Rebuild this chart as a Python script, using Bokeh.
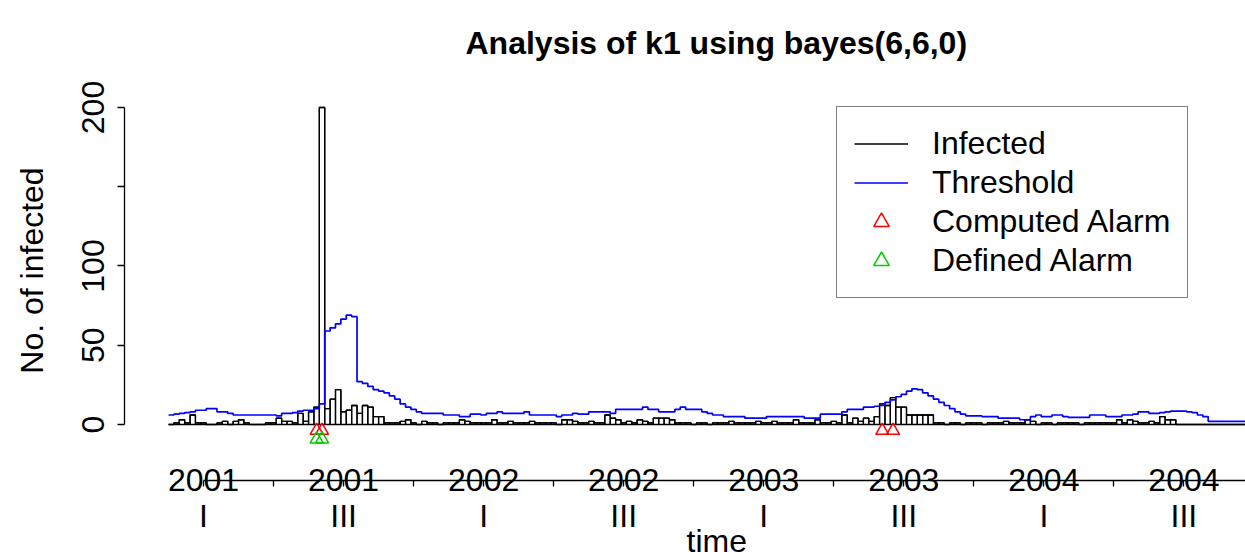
from bokeh.plotting import figure
from bokeh.models import (Range1d, LinearAxis, FixedTicker, Legend, LegendItem,
                          ColumnDataSource, Title)
from bokeh.embed import file_html
from bokeh.resources import INLINE

# ---------------- data (weekly counts, first bar = 2000 week 47) ----------------
observed = [0, 1, 3, 1, 6, 1, 1, 0, 0, 1, 2, 0, 2, 3, 1, 0, 0, 0, 1, 1,
            4, 2, 2, 1, 7, 2, 8, 11, 200, 10, 16, 22, 8, 9, 12, 7, 12, 11, 5, 5,
            1, 1, 1, 2, 3, 1, 0, 2, 1, 1, 0, 1, 1, 1, 3, 2, 1, 1, 1, 1,
            3, 1, 1, 2, 1, 1, 1, 2, 1, 1, 1, 1, 0, 3, 3, 2, 1, 1, 2, 1,
            1, 6, 4, 3, 1, 2, 1, 3, 2, 1, 4, 4, 4, 3, 1, 1, 1, 0, 1, 1,
            0, 1, 1, 1, 2, 1, 1, 1, 1, 2, 1, 1, 2, 1, 1, 1, 3, 1, 1, 1,
            3, 1, 1, 2, 1, 6, 1, 4, 2, 4, 2, 5, 13, 12, 17, 11, 11, 6, 6, 6,
            6, 6, 1, 1, 0, 1, 1, 0, 1, 1, 1, 0, 1, 1, 1, 2, 1, 1, 1, 3,
            2, 0, 1, 1, 0, 1, 1, 1, 1, 0, 1, 1, 1, 1, 1, 1, 3, 1, 3, 2,
            1, 1, 2, 1, 5, 3, 3, 0, 0, 0, 0, 0, 0, 0, 0, 0, 0, 0, 0, 0]

threshold = [6, 6.5, 7, 7.5, 8, 9, 9, 10, 10, 8, 8, 7, 6, 6, 6, 6, 6, 6, 6, 6,
             5.5, 7, 7, 7.5, 8.5, 9, 9, 10, 13, 59, 61, 63.5, 66.5, 69, 68, 27, 26, 24, 22, 21,
             20, 18, 16, 13, 11, 9.5, 8, 7, 7, 7, 7, 6, 6, 6, 5, 5, 6.5, 6.5, 6, 7,
             7, 8, 7, 7, 7, 7, 8, 6, 6, 6, 6, 6, 5, 6, 6, 7, 6.5, 6.5, 8, 8,
             8, 8, 7, 9.5, 9.5, 9.5, 9.5, 9.5, 11, 9.5, 9.5, 8, 8, 8, 9.5, 11, 9.5, 9.5, 9.5, 8,
             7, 6, 6, 5, 5, 5, 5, 4, 4, 4, 4, 5, 5, 5, 5, 5, 5, 5, 4, 4,
             4, 6.5, 6.5, 6.5, 6.5, 8, 9.5, 9.5, 9.5, 11, 11, 11.5, 12, 14, 15.5, 17.5, 19, 21, 22.5, 22,
             20, 18, 16, 14, 12, 10, 8, 6.5, 5.5, 5.5, 5.5, 5, 5, 5, 4, 4, 4, 4, 3, 3,
             5, 6, 5, 5, 6, 6, 5, 4.5, 4.5, 4.5, 4.5, 6, 6, 6, 5, 5, 5, 6, 6, 6.5,
             8, 8, 7, 7, 7.5, 8, 8.5, 8.5, 8.5, 8, 7.5, 6, 5, 2, 2, 2, 2, 2, 2, 2]

computed_alarm_weeks = [27, 28, 132, 134]
defined_alarm_weeks = [27, 28]

first_q1_week = 6          # index of 2001 week 1
weeks_per_quarter = 13
years = ["2001", "2002", "2003", "2004"]
quarter_names = ["I", "", "III", ""]

# ---------------- derived ----------------
n = len(observed)
weeks = list(range(n))
edges = list(range(n + 1))

quarter_ticks = [first_q1_week + 0.5 + weeks_per_quarter * k for k in range(16)]
year_labels = {}
quarter_labels = {}
for k, t in enumerate(quarter_ticks):
    year_labels[t] = years[k // 4] if k % 2 == 0 else ""
    quarter_labels[t] = quarter_names[k % 4]

FONT = "Liberation Sans"

p = figure(width=1245, height=552, output_backend="svg", toolbar_location=None,
           x_range=Range1d(-8.168, 199.93), y_range=Range1d(-35.33, 229.65),
           x_axis_location=None, y_axis_location=None,
           min_border_left=124, min_border_right=0, min_border_top=60,
           min_border_bottom=72)
p.outline_line_color = None
p.xgrid.visible = False
p.ygrid.visible = False
p.background_fill_color = "white"
p.border_fill_color = "white"

p.title.text = "Analysis of k1 using bayes(6,6,0)"
p.title.text_font = FONT
p.title.text_font_size = "32px"
p.title.text_font_style = "bold"
p.title.text_color = "black"
p.title.align = "left"
p.title.offset = 341
p.title.standoff = 0

# bars
bar_src = ColumnDataSource(dict(left=weeks, right=[w + 1 for w in weeks],
                                top=observed, bottom=[0] * n))
p.quad(left="left", right="right", top="top", bottom="bottom", source=bar_src,
       fill_color=None, line_color="black", line_width=1.3)
obs_step = p.step(x=edges, y=observed + [observed[-1]], mode="after",
                  line_color="black", line_width=1.3)

thr_step = p.step(x=edges, y=threshold + [threshold[-1]], mode="after",
                  line_color="#0000ff", line_width=1.7)

comp = p.scatter(x=[w + 0.5 for w in computed_alarm_weeks], y=[-3.8] * len(computed_alarm_weeks),
                 marker="triangle", size=13, fill_color=None, line_color="#ff0000", line_width=1.5)
defi = p.scatter(x=[w + 0.5 for w in defined_alarm_weeks], y=[-9.3] * len(defined_alarm_weeks),
                 marker="triangle", size=13, fill_color=None, line_color="#00cd00", line_width=1.5)

# y axis
yax = LinearAxis(ticker=FixedTicker(ticks=[0, 50, 100, 150, 200]), bounds=(0, 200),
                 major_label_overrides={150: ""}, major_label_orientation="vertical",
                 axis_label="No. of infected")
yax.major_tick_out = 7
yax.major_tick_in = 0
yax.major_label_standoff = 13
yax.axis_label_standoff = 30
yax.major_label_text_font = FONT
yax.major_label_text_font_size = "32px"
yax.major_label_text_color = "black"
yax.axis_label_text_font = FONT
yax.axis_label_text_font_size = "32px"
yax.axis_label_text_font_style = "normal"
yax.axis_label_text_color = "black"
yax.axis_line_width = 1.3
yax.major_tick_line_width = 1.3
p.add_layout(yax, "left")

# x axis: line, ticks, years
xa = LinearAxis(ticker=FixedTicker(ticks=quarter_ticks), bounds=(quarter_ticks[0], 230),
                major_label_overrides=year_labels)
xa.major_tick_out = 6
xa.major_tick_in = 0
xa.major_label_standoff = -18
xa.major_label_text_font = FONT
xa.major_label_text_font_size = "32px"
xa.major_label_text_color = "black"
xa.axis_line_width = 1.3
xa.major_tick_line_width = 1.3
p.add_layout(xa, "below")

# second row: quarters
xb = LinearAxis(ticker=FixedTicker(ticks=quarter_ticks), major_label_overrides=quarter_labels)
xb.axis_line_color = None
xb.major_tick_line_color = None
xb.major_tick_out = 0
xb.major_tick_in = 0
xb.major_label_standoff = 4
xb.major_label_text_font = FONT
xb.major_label_text_font_size = "32px"
xb.major_label_text_color = "black"
p.add_layout(xb, "below")

# axis title "time", placed as a below-title so it can be offset horizontally
p.add_layout(Title(text="time", align="left", offset=562, standoff=-44,
                   text_font=FONT, text_font_size="32px", text_font_style="normal",
                   text_color="black"), "below")

legend = Legend(items=[LegendItem(label="Infected", renderers=[obs_step]),
                       LegendItem(label="Threshold", renderers=[thr_step]),
                       LegendItem(label="Computed Alarm", renderers=[comp]),
                       LegendItem(label="Defined Alarm", renderers=[defi])],
                location=(712, 182), orientation="vertical",
                border_line_color="black", border_line_width=1.2,
                background_fill_color="white", background_fill_alpha=1.0,
                label_text_font=FONT, label_text_font_size="32px",
                label_text_color="black",
                glyph_width=54, glyph_height=39, label_height=39, label_standoff=24,
                spacing=0, padding=17, margin=0)
p.add_layout(legend)

open("out.html", "w").write(file_html(p, INLINE))
